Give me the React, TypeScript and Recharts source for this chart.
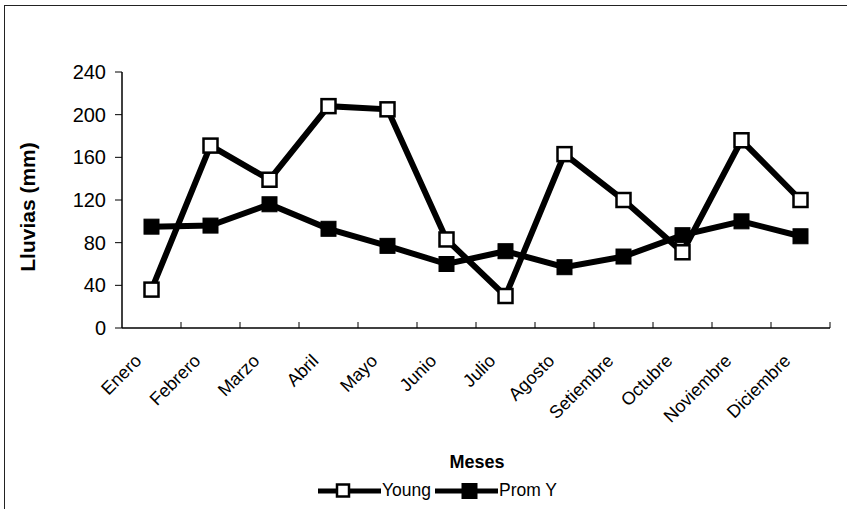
import React from 'react';
import { LineChart, Line, XAxis, YAxis } from 'recharts';

const meses = [
  'Enero', 'Febrero', 'Marzo', 'Abril', 'Mayo', 'Junio',
  'Julio', 'Agosto', 'Setiembre', 'Octubre', 'Noviembre', 'Diciembre',
];
const young = [36, 171, 139, 208, 205, 83, 30, 163, 120, 71, 176, 120];
const promY = [95, 96, 116, 93, 77, 60, 72, 57, 67, 87, 100, 86];
const yTicks = [0, 40, 80, 120, 160, 200, 240];

const data = meses.map((mes, i) => ({ mes, young: young[i], promY: promY[i] }));

const FONT = '"Liberation Sans", Arial, sans-serif';

const SquareDot: React.FC<any> = ({ cx, cy, filled }) => {
  if (cx == null || cy == null) return null;
  const s = filled ? 15 : 14;
  return (
    <rect
      x={cx - s / 2}
      y={cy - s / 2}
      width={s}
      height={s}
      fill={filled ? '#000' : '#fff'}
      stroke="#000"
      strokeWidth={filled ? 1 : 2.5}
    />
  );
};

// month labels at 45°, plus the short inward tick on each band boundary
const MonthTick: React.FC<any> = ({ x, y, payload }) => {
  const half = payload.offset ?? 0;
  return (
    <g>
      <line x1={x + half} y1={y - 8} x2={x + half} y2={y - 14} stroke="#000" strokeWidth={1} />
      <g transform={`translate(${x - 9},${y + 26})`}>
        <text textAnchor="end" transform="rotate(-45)" fontSize={18} fill="#000" fontFamily={FONT}>
          {payload.value}
        </text>
      </g>
    </g>
  );
};

const LegendItem: React.FC<{ label: string; filled?: boolean; sq: number }> = ({ label, filled, sq }) => (
  <div style={{ display: 'flex', alignItems: 'center' }}>
    <svg width={63} height={18}>
      <line x1={0} y1={9} x2={63} y2={9} stroke="#000" strokeWidth={5} />
      <rect
        x={sq}
        y={filled ? 1.5 : 2.5}
        width={filled ? 15 : 12}
        height={filled ? 15 : 12}
        fill={filled ? '#000' : '#fff'}
        stroke="#000"
        strokeWidth={filled ? 1 : 2.5}
      />
    </svg>
    <span style={{ fontSize: 17.5, fontFamily: FONT, color: '#000', marginLeft: 1, marginRight: 4 }}>
      {label}
    </span>
  </div>
);

export default function App() {
  return (
    <div style={{ position: 'fixed', left: 0, top: 0, width: 847, height: 509, background: '#fff' }}>
      <div
        style={{
          position: 'absolute',
          left: 4,
          top: 5,
          right: 0,
          bottom: 0,
          borderLeft: '1.5px solid #222',
          borderTop: '1.5px solid #222',
        }}
      />
      <LineChart
        width={847}
        height={509}
        data={data}
        margin={{ top: 72, right: 17, bottom: 0, left: 62 }}
      >
        <XAxis
          dataKey="mes"
          scale="band"
          interval={0}
          height={181}
          tick={<MonthTick />}
          tickLine={false}
          tickSize={0}
          tickMargin={8}
          axisLine={{ stroke: '#000', strokeWidth: 1.5 }}
          label={({ viewBox }: any) => (
            <text
              x={viewBox.x + viewBox.width / 2 + 1}
              y={viewBox.y + 140}
              textAnchor="middle"
              fontSize={18}
              fontWeight="bold"
              fontFamily={FONT}
              fill="#000"
            >
              Meses
            </text>
          )}
        />
        <YAxis
          width={60}
          domain={[0, 240]}
          ticks={yTicks}
          interval={0}
          tick={{ fontSize: 20, fill: '#000', fontFamily: FONT }}
          tickSize={7}
          tickMargin={9}
          tickLine={{ stroke: '#000' }}
          axisLine={{ stroke: '#000', strokeWidth: 1.5 }}
          label={({ viewBox }: any) => (
            <text
              transform={`translate(${viewBox.x - 27},${viewBox.y + viewBox.height / 2 + 7}) rotate(-90)`}
              textAnchor="middle"
              fontSize={21}
              fontWeight="bold"
              fontFamily={FONT}
              fill="#000"
            >
              Lluvias (mm)
            </text>
          )}
        />
        <Line
          dataKey="young"
          name="Young"
          stroke="#000"
          strokeWidth={6}
          dot={<SquareDot />}
          isAnimationActive={false}
        />
        <Line
          dataKey="promY"
          name="Prom Y"
          stroke="#000"
          strokeWidth={6}
          dot={<SquareDot filled />}
          isAnimationActive={false}
        />
      </LineChart>
      <div style={{ position: 'absolute', left: 318, top: 480, display: 'flex', alignItems: 'center' }}>
        <LegendItem label="Young" sq={19} />
        <LegendItem label="Prom Y" filled sq={27} />
      </div>
    </div>
  );
}
